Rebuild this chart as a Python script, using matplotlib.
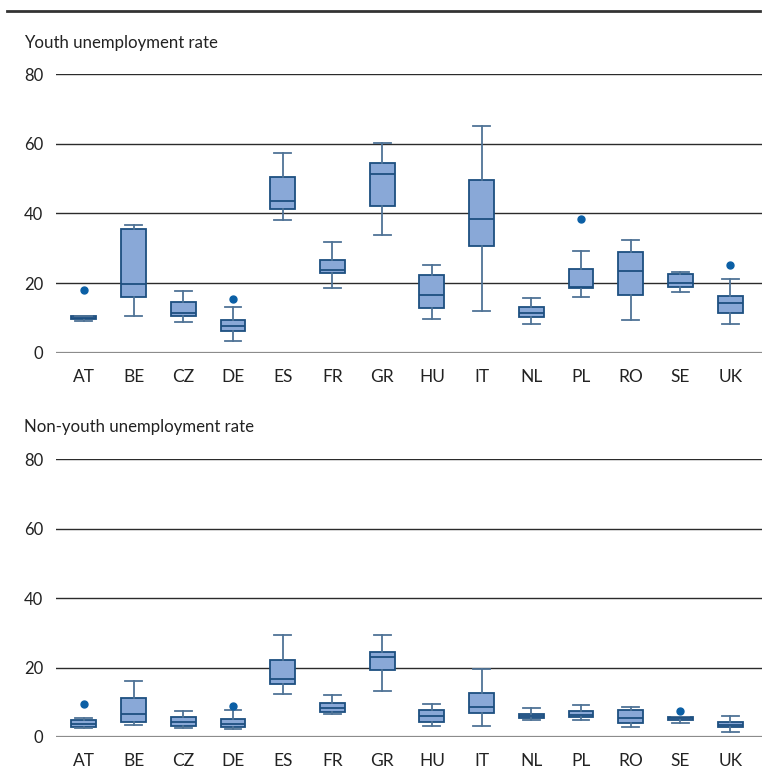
import matplotlib
matplotlib.use("Agg")
import matplotlib.pyplot as plt
from matplotlib.lines import Line2D

plt.rcParams['font.family'] = ['Lato', 'DejaVu Sans']

countries = ["AT", "BE", "CZ", "DE", "ES", "FR", "GR", "HU", "IT", "NL", "PL", "RO", "SE", "UK"]

# youth unemployment rate: whisker low, q1, median, q3, whisker high
youth_lo = [9.0, 10.6, 8.9, 3.5, 38.2, 18.7, 33.8, 9.7, 11.9, 8.2, 16.1, 9.3, 17.4, 8.3]
youth_q1 = [9.6, 16.1, 10.6, 6.3, 41.3, 22.9, 42.0, 12.8, 30.7, 10.2, 18.5, 16.6, 19.0, 11.4]
youth_med = [10.1, 19.7, 11.4, 7.8, 43.5, 23.6, 51.2, 16.5, 38.5, 11.4, 18.8, 23.4, 19.9, 14.3]
youth_q3 = [10.6, 35.6, 14.6, 9.3, 50.5, 26.7, 54.6, 22.2, 49.7, 13.1, 24.1, 28.8, 22.6, 16.3]
youth_hi = [10.6, 36.6, 17.6, 13.0, 57.3, 31.9, 60.2, 25.1, 65.1, 15.6, 29.1, 32.3, 23.3, 21.2]
youth_out = [[18.1], [], [], [15.3], [], [], [], [], [], [], [38.4], [], [], [25.1]]

# non-youth unemployment rate
adult_lo = [2.6, 3.4, 2.5, 2.2, 12.4, 6.7, 13.3, 3.2, 3.2, 4.9, 4.8, 3.0, 3.9, 1.5]
adult_q1 = [3.0, 4.2, 3.2, 2.9, 15.2, 7.2, 19.2, 4.2, 6.8, 5.5, 5.8, 4.0, 5.0, 2.9]
adult_med = [3.8, 6.6, 4.4, 3.7, 16.8, 8.4, 23.1, 5.9, 8.6, 6.1, 6.3, 5.5, 5.4, 3.5]
adult_q3 = [4.8, 11.2, 5.8, 5.2, 22.3, 9.8, 24.6, 7.8, 12.6, 6.7, 7.4, 7.8, 5.8, 4.4]
adult_hi = [5.6, 16.1, 7.5, 7.7, 29.4, 12.1, 29.3, 9.5, 19.6, 8.3, 9.3, 8.6, 5.8, 5.9]
adult_out = [[9.6], [], [], [8.9], [], [], [], [], [], [], [], [], [7.6], []]

yticks = [0, 20, 40, 60, 80]

fill_col = "#89a8d7"
edge_col = "#1d4f80"
whisk_col = "#4f7396"
dot_col = "#0b5fa5"
grid_col = "#2b2b2b"


def make_stats(lo, q1, med, q3, hi, out):
    stats = []
    for i in range(len(countries)):
        stats.append(dict(whislo=lo[i], q1=q1[i], med=med[i], q3=q3[i],
                          whishi=hi[i], fliers=out[i], label=countries[i]))
    return stats


def draw_panel(ax, stats):
    for v in yticks:
        if v == 0:
            ax.axhline(v, color="#8c8c8c", lw=1.6, zorder=0)
        else:
            ax.axhline(v, color=grid_col, lw=1.0, zorder=0)
    ax.bxp(stats, positions=range(len(countries)), widths=0.5, capwidths=0.34,
           patch_artist=True, showfliers=True,
           boxprops=dict(facecolor=fill_col, edgecolor=edge_col, linewidth=1.3),
           medianprops=dict(color=edge_col, linewidth=1.3),
           whiskerprops=dict(color=whisk_col, linewidth=1.3),
           capprops=dict(color=whisk_col, linewidth=1.3),
           flierprops=dict(marker="o", markerfacecolor=dot_col, markeredgecolor=dot_col,
                           markersize=5, linestyle="none"))
    ax.set_xlim(-0.56, 13.64)
    ax.set_ylim(0, 80)
    ax.set_yticks(yticks)
    ax.set_xticks(range(len(countries)))
    ax.set_xticklabels(countries)
    for s in ax.spines.values():
        s.set_visible(False)
    ax.tick_params(axis="y", length=0, pad=9, labelsize=12, labelcolor="#222222")
    ax.tick_params(axis="x", length=0, pad=11.5, labelsize=12.5, labelcolor="#222222")
    ax.set_facecolor("none")


fig = plt.figure(figsize=(7.65, 7.76), dpi=100)

ax1 = fig.add_axes([0.0732, 0.5455, 0.9229, 0.3591])
draw_panel(ax1, make_stats(youth_lo, youth_q1, youth_med, youth_q3, youth_hi, youth_out))

ax2 = fig.add_axes([0.0732, 0.0503, 0.9229, 0.3578])
draw_panel(ax2, make_stats(adult_lo, adult_q1, adult_med, adult_q3, adult_hi, adult_out))

fig.text(0.031, 0.9446, "Youth unemployment rate", fontsize=12.1, color="#222222", va="center")
fig.text(0.031, 0.450, "Non-youth unemployment rate", fontsize=12.1, color="#222222", va="center")

fig.add_artist(Line2D([0.009, 0.994], [0.9858, 0.9858], color="#333333", lw=2.0,
                      transform=fig.transFigure))

fig.savefig("out.png", dpi=100)
